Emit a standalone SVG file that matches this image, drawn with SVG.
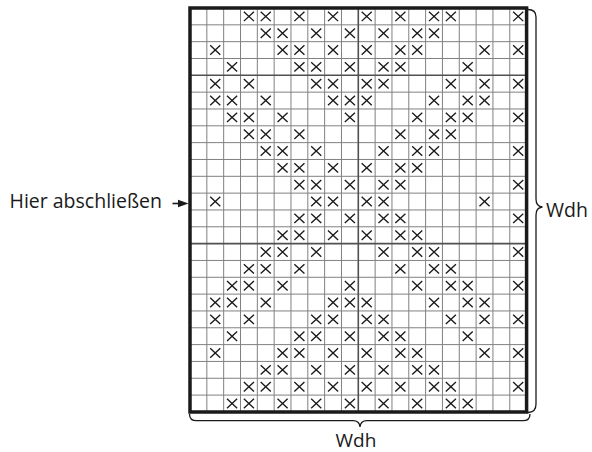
<svg xmlns="http://www.w3.org/2000/svg" xmlns:xlink="http://www.w3.org/1999/xlink" width="592" height="452" viewBox="0 0 592 452">
<style>
.lbl{font-family:"Open Sans","Noto Sans","Liberation Sans",sans-serif;font-size:19.5px;fill:#1a1a1a}
.grid{fill:none;stroke:#808080;stroke-width:1}
.major{fill:none;stroke:#505050;stroke-width:1.6}
.xm{fill:none;stroke:#1a1a1a;stroke-width:1.35}
.brace{fill:none;stroke:#1a1a1a;stroke-width:1.3}
</style>
<defs>
<path id="x" class="xm" vector-effect="non-scaling-stroke" d="M-0.3 -0.28L0.3 0.28M-0.3 0.28L0.3 -0.28"/>
</defs>
<rect x="0" y="0" width="592" height="452" fill="#fff"/>
<g id="chart" transform="translate(190 8) scale(16.83)">
<path class="grid" vector-effect="non-scaling-stroke" d="M1 0V24M2 0V24M3 0V24M4 0V24M5 0V24M6 0V24M7 0V24M8 0V24M9 0V24M11 0V24M12 0V24M13 0V24M14 0V24M15 0V24M16 0V24M17 0V24M18 0V24M19 0V24M0 1H20M0 2H20M0 3H20M0 5H20M0 6H20M0 7H20M0 8H20M0 9H20M0 10H20M0 11H20M0 12H20M0 13H20M0 15H20M0 16H20M0 17H20M0 18H20M0 19H20M0 20H20M0 21H20M0 22H20M0 23H20"/>
<path class="major" vector-effect="non-scaling-stroke" d="M10 0V24M0 4H20M0 14H20"/>
<g id="marks">
<use href="#x" x="3.5" y="0.5"/><use href="#x" x="4.5" y="0.5"/><use href="#x" x="6.5" y="0.5"/><use href="#x" x="8.5" y="0.5"/><use href="#x" x="10.5" y="0.5"/><use href="#x" x="12.5" y="0.5"/><use href="#x" x="14.5" y="0.5"/><use href="#x" x="15.5" y="0.5"/><use href="#x" x="19.5" y="0.5"/>
<use href="#x" x="4.5" y="1.5"/><use href="#x" x="5.5" y="1.5"/><use href="#x" x="7.5" y="1.5"/><use href="#x" x="9.5" y="1.5"/><use href="#x" x="11.5" y="1.5"/><use href="#x" x="13.5" y="1.5"/><use href="#x" x="14.5" y="1.5"/>
<use href="#x" x="1.5" y="2.5"/><use href="#x" x="5.5" y="2.5"/><use href="#x" x="6.5" y="2.5"/><use href="#x" x="8.5" y="2.5"/><use href="#x" x="10.5" y="2.5"/><use href="#x" x="12.5" y="2.5"/><use href="#x" x="13.5" y="2.5"/><use href="#x" x="17.5" y="2.5"/><use href="#x" x="19.5" y="2.5"/>
<use href="#x" x="2.5" y="3.5"/><use href="#x" x="6.5" y="3.5"/><use href="#x" x="7.5" y="3.5"/><use href="#x" x="9.5" y="3.5"/><use href="#x" x="11.5" y="3.5"/><use href="#x" x="12.5" y="3.5"/><use href="#x" x="16.5" y="3.5"/>
<use href="#x" x="1.5" y="4.5"/><use href="#x" x="3.5" y="4.5"/><use href="#x" x="7.5" y="4.5"/><use href="#x" x="8.5" y="4.5"/><use href="#x" x="10.5" y="4.5"/><use href="#x" x="11.5" y="4.5"/><use href="#x" x="15.5" y="4.5"/><use href="#x" x="17.5" y="4.5"/><use href="#x" x="19.5" y="4.5"/>
<use href="#x" x="1.5" y="5.5"/><use href="#x" x="2.5" y="5.5"/><use href="#x" x="4.5" y="5.5"/><use href="#x" x="8.5" y="5.5"/><use href="#x" x="9.5" y="5.5"/><use href="#x" x="10.5" y="5.5"/><use href="#x" x="14.5" y="5.5"/><use href="#x" x="16.5" y="5.5"/><use href="#x" x="17.5" y="5.5"/>
<use href="#x" x="2.5" y="6.5"/><use href="#x" x="3.5" y="6.5"/><use href="#x" x="5.5" y="6.5"/><use href="#x" x="9.5" y="6.5"/><use href="#x" x="13.5" y="6.5"/><use href="#x" x="15.5" y="6.5"/><use href="#x" x="16.5" y="6.5"/><use href="#x" x="19.5" y="6.5"/>
<use href="#x" x="3.5" y="7.5"/><use href="#x" x="4.5" y="7.5"/><use href="#x" x="6.5" y="7.5"/><use href="#x" x="12.5" y="7.5"/><use href="#x" x="14.5" y="7.5"/><use href="#x" x="15.5" y="7.5"/>
<use href="#x" x="4.5" y="8.5"/><use href="#x" x="5.5" y="8.5"/><use href="#x" x="7.5" y="8.5"/><use href="#x" x="11.5" y="8.5"/><use href="#x" x="13.5" y="8.5"/><use href="#x" x="14.5" y="8.5"/><use href="#x" x="19.5" y="8.5"/>
<use href="#x" x="5.5" y="9.5"/><use href="#x" x="6.5" y="9.5"/><use href="#x" x="8.5" y="9.5"/><use href="#x" x="10.5" y="9.5"/><use href="#x" x="12.5" y="9.5"/><use href="#x" x="13.5" y="9.5"/>
<use href="#x" x="6.5" y="10.5"/><use href="#x" x="7.5" y="10.5"/><use href="#x" x="9.5" y="10.5"/><use href="#x" x="11.5" y="10.5"/><use href="#x" x="12.5" y="10.5"/><use href="#x" x="19.5" y="10.5"/>
<use href="#x" x="1.5" y="11.5"/><use href="#x" x="7.5" y="11.5"/><use href="#x" x="8.5" y="11.5"/><use href="#x" x="10.5" y="11.5"/><use href="#x" x="11.5" y="11.5"/><use href="#x" x="17.5" y="11.5"/>
<use href="#x" x="6.5" y="12.5"/><use href="#x" x="7.5" y="12.5"/><use href="#x" x="9.5" y="12.5"/><use href="#x" x="11.5" y="12.5"/><use href="#x" x="12.5" y="12.5"/><use href="#x" x="19.5" y="12.5"/>
<use href="#x" x="5.5" y="13.5"/><use href="#x" x="6.5" y="13.5"/><use href="#x" x="8.5" y="13.5"/><use href="#x" x="10.5" y="13.5"/><use href="#x" x="12.5" y="13.5"/><use href="#x" x="13.5" y="13.5"/>
<use href="#x" x="4.5" y="14.5"/><use href="#x" x="5.5" y="14.5"/><use href="#x" x="7.5" y="14.5"/><use href="#x" x="11.5" y="14.5"/><use href="#x" x="13.5" y="14.5"/><use href="#x" x="14.5" y="14.5"/><use href="#x" x="19.5" y="14.5"/>
<use href="#x" x="3.5" y="15.5"/><use href="#x" x="4.5" y="15.5"/><use href="#x" x="6.5" y="15.5"/><use href="#x" x="12.5" y="15.5"/><use href="#x" x="14.5" y="15.5"/><use href="#x" x="15.5" y="15.5"/>
<use href="#x" x="2.5" y="16.5"/><use href="#x" x="3.5" y="16.5"/><use href="#x" x="5.5" y="16.5"/><use href="#x" x="9.5" y="16.5"/><use href="#x" x="13.5" y="16.5"/><use href="#x" x="15.5" y="16.5"/><use href="#x" x="16.5" y="16.5"/><use href="#x" x="19.5" y="16.5"/>
<use href="#x" x="1.5" y="17.5"/><use href="#x" x="2.5" y="17.5"/><use href="#x" x="4.5" y="17.5"/><use href="#x" x="8.5" y="17.5"/><use href="#x" x="9.5" y="17.5"/><use href="#x" x="10.5" y="17.5"/><use href="#x" x="14.5" y="17.5"/><use href="#x" x="16.5" y="17.5"/><use href="#x" x="17.5" y="17.5"/>
<use href="#x" x="1.5" y="18.5"/><use href="#x" x="3.5" y="18.5"/><use href="#x" x="7.5" y="18.5"/><use href="#x" x="8.5" y="18.5"/><use href="#x" x="10.5" y="18.5"/><use href="#x" x="11.5" y="18.5"/><use href="#x" x="15.5" y="18.5"/><use href="#x" x="17.5" y="18.5"/><use href="#x" x="19.5" y="18.5"/>
<use href="#x" x="2.5" y="19.5"/><use href="#x" x="6.5" y="19.5"/><use href="#x" x="7.5" y="19.5"/><use href="#x" x="9.5" y="19.5"/><use href="#x" x="11.5" y="19.5"/><use href="#x" x="12.5" y="19.5"/><use href="#x" x="16.5" y="19.5"/>
<use href="#x" x="1.5" y="20.5"/><use href="#x" x="5.5" y="20.5"/><use href="#x" x="6.5" y="20.5"/><use href="#x" x="8.5" y="20.5"/><use href="#x" x="10.5" y="20.5"/><use href="#x" x="12.5" y="20.5"/><use href="#x" x="13.5" y="20.5"/><use href="#x" x="17.5" y="20.5"/><use href="#x" x="19.5" y="20.5"/>
<use href="#x" x="4.5" y="21.5"/><use href="#x" x="5.5" y="21.5"/><use href="#x" x="7.5" y="21.5"/><use href="#x" x="9.5" y="21.5"/><use href="#x" x="11.5" y="21.5"/><use href="#x" x="13.5" y="21.5"/><use href="#x" x="14.5" y="21.5"/>
<use href="#x" x="3.5" y="22.5"/><use href="#x" x="4.5" y="22.5"/><use href="#x" x="6.5" y="22.5"/><use href="#x" x="8.5" y="22.5"/><use href="#x" x="10.5" y="22.5"/><use href="#x" x="12.5" y="22.5"/><use href="#x" x="14.5" y="22.5"/><use href="#x" x="15.5" y="22.5"/><use href="#x" x="19.5" y="22.5"/>
<use href="#x" x="2.5" y="23.5"/><use href="#x" x="3.5" y="23.5"/><use href="#x" x="5.5" y="23.5"/><use href="#x" x="7.5" y="23.5"/><use href="#x" x="9.5" y="23.5"/><use href="#x" x="11.5" y="23.5"/><use href="#x" x="13.5" y="23.5"/><use href="#x" x="15.5" y="23.5"/><use href="#x" x="16.5" y="23.5"/>
</g>
<rect x="0" y="0" width="20" height="24" fill="none" stroke="#1a1a1a" stroke-width="3.5" vector-effect="non-scaling-stroke"/>
</g>
<g id="connectors">
<path class="brace" d="M528 9.5Q536 9.5 536 17V199Q536 206.5 542.5 207Q536 207.5 536 215V404Q536 412.5 528 412.5"/>
<path class="brace" d="M189.5 414Q189.5 420.7 196.5 420.7H353Q359.5 420.7 360 427Q360.5 420.7 367 420.7H523Q530 420.7 530 414"/>
<line x1="172.5" y1="203.5" x2="180" y2="203.5" stroke="#1a1a1a" stroke-width="1.6"/>
<polygon points="178,199.8 188.5,203.5 178,207.2" fill="#1a1a1a"/>
</g>
<g id="label-left"><text class="lbl" x="9.5" y="207.5">Hier abschließen</text></g>
<g id="label-right"><text class="lbl" x="546" y="216.5">Wdh</text></g>
<g id="label-bottom"><text class="lbl" x="356" y="446.5" text-anchor="middle" style="font-size:19px">Wdh</text></g>
</svg>
